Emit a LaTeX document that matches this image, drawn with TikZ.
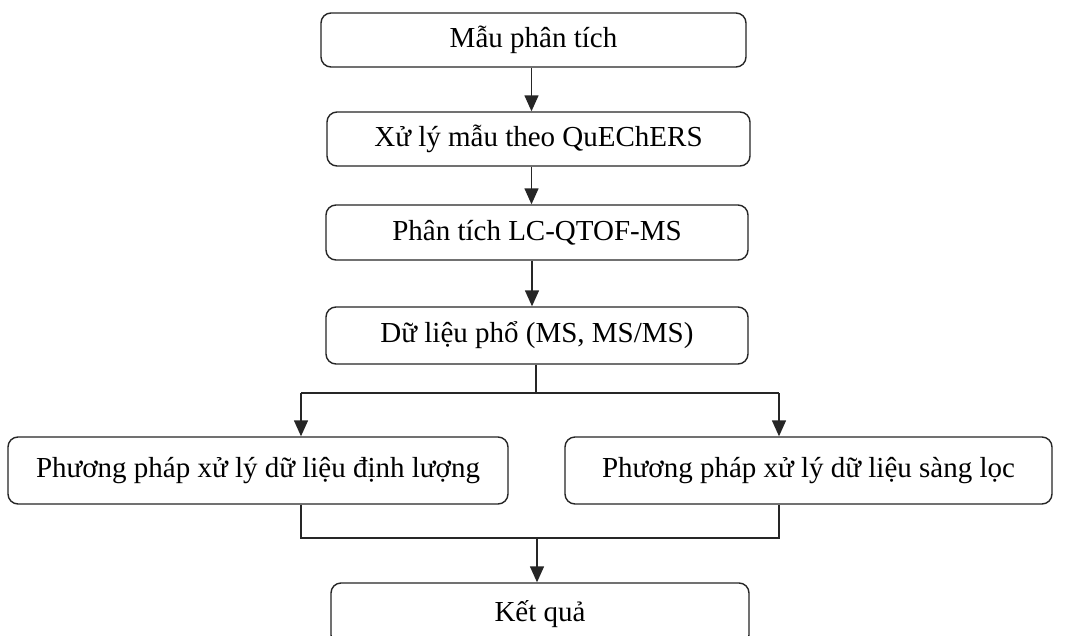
\documentclass[tikz,border=0pt]{standalone}
\usepackage{fontspec}
\setmainfont{Liberation Serif}
\usetikzlibrary{arrows.meta,calc}
\begin{document}
\begin{tikzpicture}[x=1pt,y=-1pt,
  box/.style={draw=black!85, line width=1.4pt, rounded corners=10pt, inner sep=0pt, font=\fontsize{29}{34}\selectfont},
  ln/.style={draw=black!85, line width=1.4pt},
  arr/.style={ln, -{Triangle[width=14pt,length=16pt]}}]
\useasboundingbox (0,0) rectangle (1066,635);
\clip (0,0) rectangle (1066,635);
\fill[white] (0,0) rectangle (1066,635);
\node[box, minimum width=425pt, minimum height=54pt] (b1) at (533.5,40) {Mẫu phân tích};
\node[box, minimum width=423pt, minimum height=54pt] (b2) at (538.5,139) {Xử lý mẫu theo QuEChERS};
\node[box, minimum width=422pt, minimum height=55pt] (b3) at (537,232.5) {Phân tích LC-QTOF-MS};
\node[box, minimum width=422pt, minimum height=57pt] (b4) at (537,335.5) {Dữ liệu phổ (MS, MS/MS)};
\node[box, minimum width=500pt, minimum height=67pt] (b5) at (258,470.5) {Phương pháp xử lý dữ liệu định lượng};
\node[box, minimum width=487pt, minimum height=67pt] (b6) at (808.5,470.5) {Phương pháp xử lý dữ liệu sàng lọc};
\node[box, minimum width=418pt, minimum height=62pt] (b7) at (540,614) {Kết quả};
\coordinate (jm) at (536,393);
\coordinate (jl) at (301,393);
\coordinate (jr) at (779,393);
\coordinate (kl) at (301,538);
\coordinate (kr) at (779,538);
\coordinate (km) at (537,538);
\draw[arr] ([xshift=-2pt]b1.south) -- ([xshift=-2pt]b1.south |- b2.north);
\draw[arr] ([xshift=-7pt]b2.south) -- ([xshift=-7pt]b2.south |- b3.north);
\draw[arr] ([xshift=-5pt]b3.south) -- ([xshift=-5pt]b3.south |- b4.north);
\draw[ln] (jm |- b4.south) -- (jm);
\draw[ln] (jl) -- (jr);
\draw[arr] (jl) -- (jl |- b5.north);
\draw[arr] (jr) -- (jr |- b6.north);
\draw[ln] (kl |- b5.south) -- (kl) -- (kr) -- (kr |- b6.south);
\draw[arr] (km) -- (km |- b7.north);
\end{tikzpicture}
\end{document}
